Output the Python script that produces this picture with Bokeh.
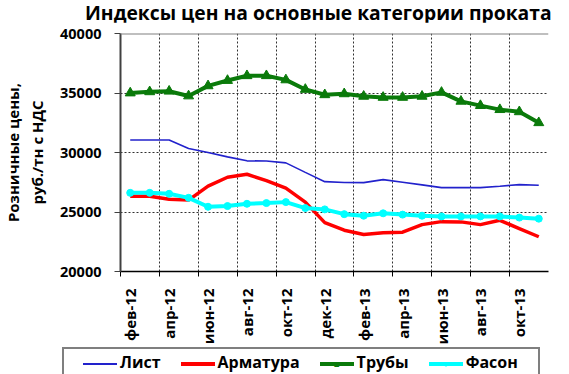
from math import pi
from bokeh.plotting import figure
from bokeh.layouts import column
from bokeh.models import Range1d, FixedTicker, Div, Span
from bokeh.embed import file_html
from bokeh.resources import INLINE

# ---- data ----
months = ["фев-12", "мар-12", "апр-12", "май-12", "июн-12", "июл-12", "авг-12", "сен-12",
          "окт-12", "ноя-12", "дек-12", "янв-13", "фев-13", "мар-13", "апр-13", "май-13",
          "июн-13", "июл-13", "авг-13", "сен-13", "окт-13", "ноя-13"]
list_vals = [31050, 31050, 31050, 30330, 30000, 29630, 29300, 29280, 29130, 28330, 27550,
             27480, 27470, 27720, 27500, 27280, 27050, 27050, 27050, 27170, 27300, 27250]
armatura = [26330, 26330, 26080, 26000, 27170, 27920, 28170, 27630, 27000, 25830, 24110,
            23470, 23110, 23250, 23300, 23940, 24190, 24170, 23940, 24300, 23610, 22920]
truby = [35000, 35100, 35150, 34750, 35600, 36050, 36450, 36450, 36100, 35300, 34850,
         34930, 34720, 34630, 34630, 34720, 35050, 34300, 33940, 33600, 33420, 32500]
fason = [26610, 26610, 26530, 26190, 25440, 25500, 25690, 25750, 25830, 25330, 25220,
         24820, 24690, 24890, 24780, 24690, 24630, 24630, 24630, 24630, 24530, 24440]
tick_labels = months[::2]
y_ticks = [20000, 25000, 30000, 35000, 40000]
series_names = ["Лист", "Арматура", "Трубы", "Фасон"]
title_text = "Индексы цен на основные категории проката"
ytitle = "Розничные цены,\nруб./тн с НДС"

FONT = "Open Sans"
x = list(range(len(months)))
n = len(months)

styles = [
    dict(color="#2222CC", width=1.6, marker=None),
    dict(color="#FF0000", width=3.5, marker=None),
    dict(color="#0A7A0A", width=4, marker=("triangle", 10)),
    dict(color="#00FFFF", width=4, marker=("circle", 7)),
]
series = [list_vals, armatura, truby, fason]

# ---- title strip ----
title_div = Div(text=title_text, width=569, height=22, margin=(0, 0, 0, 0),
                styles={"font-family": FONT, "font-weight": "bold", "font-size": "19.3px",
                        "line-height": "22px", "padding-left": "85px", "padding-top": "2px",
                        "white-space": "nowrap", "color": "black"})

# ---- main chart ----
p = figure(width=569, height=325, output_backend="svg", toolbar_location=None,
           x_range=Range1d(-0.5, n - 0.5), y_range=Range1d(20000, 40000),
           min_border_left=110, min_border_right=21, min_border_top=11, min_border_bottom=74)
p.outline_line_color = None
p.background_fill_color = "white"
p.border_fill_color = "white"

label_pos = list(range(0, n, 2))
bounds = [i - 0.5 for i in range(0, n - 1, 2)]
xa = p.xaxis[0]
xa.ticker = FixedTicker(ticks=label_pos, minor_ticks=bounds)
xa.major_label_overrides = {pos: lab for pos, lab in zip(label_pos, tick_labels)}
xa.major_label_orientation = pi / 2
xa.major_tick_line_color = None
xa.major_tick_out = 0
xa.major_tick_in = 0
xa.minor_tick_line_color = "black"
xa.minor_tick_out = 5
xa.minor_tick_in = 0
xa.minor_tick_line_width = 1
xa.axis_line_color = "black"
xa.axis_line_width = 1.5
xa.major_label_standoff = 12
xa.major_label_text_font = FONT
xa.major_label_text_font_style = "bold"
xa.major_label_text_font_size = "15px"
xa.major_label_text_color = "black"

ya = p.yaxis[0]
ya.ticker = FixedTicker(ticks=y_ticks)
ya.major_label_overrides = {v: str(v) for v in y_ticks}
ya.major_tick_out = 6
ya.major_tick_in = 0
ya.major_tick_line_color = "#404040"
ya.minor_tick_line_color = None
ya.axis_line_color = "#404040"
ya.axis_line_width = 2
ya.major_label_standoff = 13
ya.major_label_text_font = FONT
ya.major_label_text_font_style = "bold"
ya.major_label_text_font_size = "14.5px"
ya.major_label_text_color = "black"
ya.axis_label = ytitle
ya.axis_label_standoff = 10
ya.axis_label_text_font = FONT
ya.axis_label_text_font_style = "bold"
ya.axis_label_text_font_size = "15px"
ya.axis_label_text_color = "black"

p.xgrid.ticker = FixedTicker(ticks=bounds[1:])
for g in (p.xgrid, p.ygrid):
    g.grid_line_color = "#303030"
    g.grid_line_dash = "2 2"
    g.grid_line_width = 1
p.add_layout(Span(location=y_ticks[-1], dimension="width", line_color="#808080", line_width=2))

for vals, st in zip(series, styles):
    p.line(x, vals, line_color=st["color"], line_width=st["width"])
    if st["marker"]:
        p.scatter(x, vals, marker=st["marker"][0], size=st["marker"][1],
                  fill_color=st["color"], line_color=st["color"])

# ---- legend strip below the chart (HTML, built from the series names/styles) ----
def legend_item(name, st):
    mk = ""
    if st["marker"]:
        ch = "&#9650;" if st["marker"][0] == "triangle" else "&#9679;"
        fs = 9 if st["marker"][0] == "triangle" else 8
        mk = (f'<span style="position:absolute;left:0;width:34px;top:50%;'
              f'transform:translateY(-55%);text-align:center;font-size:{fs}px;line-height:1;'
              f'color:{st["color"]}">{ch}</span>')
    line = (f'<span style="position:relative;display:inline-block;width:34px;'
            f'height:{max(2, round(st["width"]))}px;background:{st["color"]};'
            f'vertical-align:middle;margin-right:3px">{mk}</span>')
    return (f'<span style="display:inline-block;margin-right:20px;white-space:nowrap">'
            f'{line}{name}</span>')

legend_html = (
    '<div style="margin-left:62px;width:478px;height:40px;box-sizing:border-box;'
    'border:2px solid #7f7f7f;padding:3px 0 0 19px;background:white;'
    f'font-family:{FONT};font-weight:bold;font-size:16px;line-height:20px;color:black;'
    'white-space:nowrap">'
    + "".join(legend_item(nm, st) for nm, st in zip(series_names, styles))
    + '</div>'
)
legend_div = Div(text=legend_html, width=569, height=27, margin=(0, 0, 0, 0))

layout = column(title_div, p, legend_div, spacing=0)
open("out.html", "w").write(file_html(layout, INLINE))
